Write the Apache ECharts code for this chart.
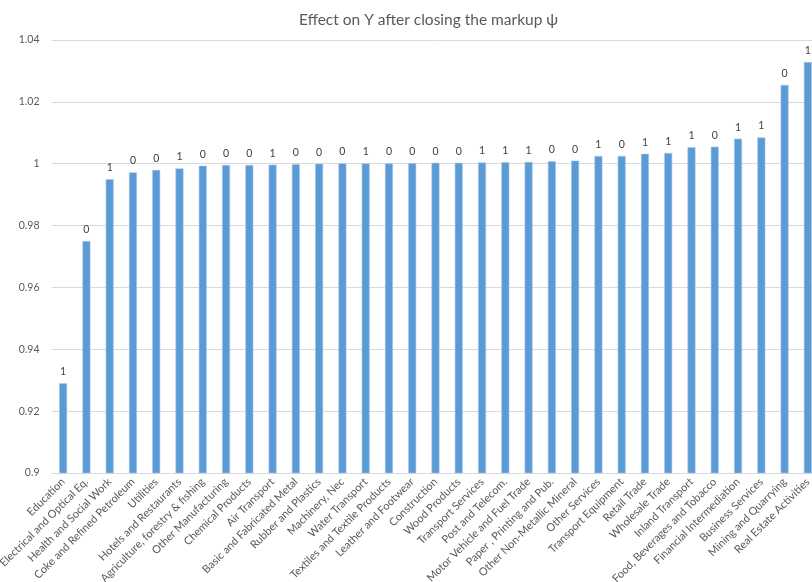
<!DOCTYPE html>
<html>
<head>
<meta charset="utf-8">
<script src="https://cdn.jsdelivr.net/npm/echarts@6/dist/echarts.min.js"></script>
<style>
html,body{margin:0;padding:0;background:#fff;}
#chart{width:812px;height:582px;}
</style>
</head>
<body>
<div id="chart"></div>
<script>
const categories = ["Education","Electrical and Optical Eq.","Health and Social Work","Coke and Refined Petroleum","Utilities","Hotels and Restaurants","Agriculture, forestry & fishing","Other Manufacturing","Chemical Products","Air Transport","Basic and Fabricated Metal","Rubber and Plastics","Machinery, Nec","Water Transport","Textiles and Textile Products","Leather and Footwear","Construction","Wood Products","Transport Services","Post and Telecom.","Motor Vehicle and Fuel Trade","Paper , Printing and Pub.","Other Non-Metallic Mineral","Other Services","Transport Equipment","Retail Trade","Wholesale Trade","Inland Transport","Food, Beverages and Tobacco","Financial Intermediation","Business Services","Mining and Quarrying","Real Estate Activities"];
const values = [0.929,0.975,0.995,0.9972,0.998,0.9985,0.99935,0.9996,0.9996,0.9997,0.99985,1.0000,1.0001,1.0001,1.0001,1.0002,1.0003,1.0003,1.0004,1.0005,1.0006,1.0008,1.0010,1.0025,1.0025,1.0032,1.0035,1.0053,1.0055,1.0081,1.0085,1.0255,1.0329];
const dataLabels = ["1","0","1","0","0","1","0","0","0","1","0","0","0","1","0","0","0","0","1","1","1","0","0","1","0","1","1","1","0","1","1","0","1"];
const yTicks = {min:0.9, max:1.04, interval:0.02};
const titleText = "Effect on Y after closing the markup \u03c8";

const chart = echarts.init(document.getElementById('chart'), null, {renderer:'canvas'});
const font = "Lato,'Noto Sans',sans-serif";
chart.setOption({
  animation:false,
  backgroundColor:'#fff',
  title:{text:titleText,left:294,top:7,textStyle:{fontFamily:font,fontSize:15.5,fontWeight:'normal',color:'#595959'}},
  grid:{left:51.5,top:40,width:768,height:433,containLabel:false,outerBoundsMode:'none'},
  xAxis:{type:'category',data:categories,
    axisLine:{lineStyle:{color:'#d9d9d9'}},axisTick:{show:false},
    axisLabel:{interval:0,rotate:45,fontFamily:font,fontSize:11,color:'#595959',margin:7}},
  yAxis:{type:'value',min:yTicks.min,max:yTicks.max,interval:yTicks.interval,
    axisLine:{show:false},axisTick:{show:false},
    splitLine:{lineStyle:{color:'#d9d9d9'}},
    axisLabel:{fontFamily:font,fontSize:10.5,color:'#595959',margin:12,formatter:v=>String(+v.toFixed(2))}},
  series:[{type:'bar',data:values,barWidth:8,
    itemStyle:{color:'#5b9bd5',borderColor:'#a9c8ea',borderWidth:0.6},
    label:{show:true,position:'top',distance:6,fontFamily:font,fontSize:10.5,color:'#404040',
      formatter:p=>dataLabels[p.dataIndex]}}]
});
</script>
</body>
</html>
